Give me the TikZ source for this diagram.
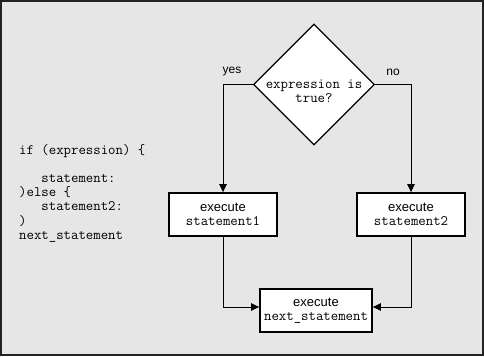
\documentclass[tikz,border=0pt]{standalone}
\usepackage{fontspec}
\setmainfont{Liberation Sans}
\usetikzlibrary{shapes.geometric,arrows.meta}
\newcommand{\codefont}{\fontsize{14.4}{14}\ttfamily}
\begin{document}
\begin{tikzpicture}[x=1pt,y=-1pt,
  codeline/.style={anchor=base west,inner sep=0pt,font=\codefont},
  procbox/.style={draw=black,fill=white,line width=1.8pt,minimum height=43pt,inner sep=0pt,align=center,font=\fontsize{13}{14}\selectfont},
  decision/.style={draw=black,fill=white,line width=1.3pt,shape=diamond,minimum width=121pt,minimum height=121pt,inner sep=0pt},
  flow/.style={draw=black,line width=0.9pt},
  arr/.style={flow,-{Triangle[length=8pt,width=7.5pt]}},
  lbl/.style={inner sep=0pt,font=\fontsize{12}{14}\selectfont}]
\useasboundingbox (0,0) rectangle (484,356);
\fill[fill={rgb,255:red,230;green,230;blue,230}] (0,0) rectangle (484,356);
\draw[line width=2pt,draw={rgb,255:red,35;green,35;blue,35}] (1,1) rectangle (483,355);
% code
\node[codeline] (c1) at (19,154) {if (expression) \{};
\node[codeline] (c2) at (19,182.4) {\phantom{xxx}statement:};
\node[codeline] (c3) at (19,196.6) {)else \{};
\node[codeline] (c4) at (19,210.8) {\phantom{xxx}statement2:};
\node[codeline] (c5) at (19,225) {)};
\node[codeline] (c6) at (19,239.2) {next\_statement};
% flowchart
\node[decision] (d) at (314,84.5) {};
\node[inner sep=0pt,align=center,font=\codefont] (dt) at (314,91) {expression is\\true?};
\node[procbox,minimum width=108pt] (b1) at (223,214.5) {execute\\{\codefont statement1}};
\node[procbox,minimum width=108pt] (b2) at (411,214.5) {execute\\{\codefont statement2}};
\node[procbox,minimum width=112pt] (b3) at (316,310.5) {execute\\{\codefont next\_statement}};
\node[lbl] (yes) at (232,72) {yes};
\node[lbl] (no) at (393,72) {no};
\draw[arr] (d.west) -| (b1.north);
\draw[arr] (d.east) -| (b2.north);
\draw[arr] (b1.south) |- ([yshift=3.5pt]b3.west);
\draw[arr] (b2.south) |- ([yshift=3.5pt]b3.east);
\end{tikzpicture}
\end{document}
